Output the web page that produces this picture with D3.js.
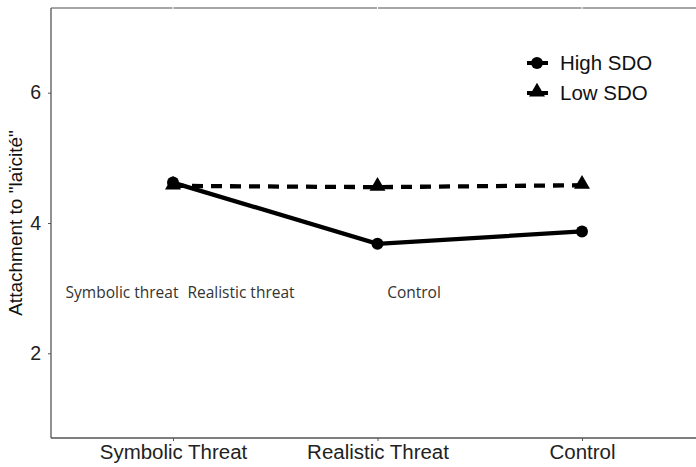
<!DOCTYPE html>
<html><head><meta charset="utf-8">
<script src="https://cdn.jsdelivr.net/npm/d3@7"></script>
<style>body{margin:0;background:#fff}svg{display:block}</style>
</head><body>
<svg id="c" width="696" height="467"></svg>
<script>
const categories = ["Symbolic Threat", "Realistic Threat", "Control"];
const highSDO = [4.62, 3.68, 3.87];
const lowSDO = [4.57, 4.55, 4.58];
const yTicks = [2, 4, 6];
const annotations = ["Symbolic threat", "Realistic threat", "Control"];
const seriesNames = ["High SDO", "Low SDO"];

const svg = d3.select("#c");
const pLeft = 51, pTop = 8, pBottom = 438;
const x = d3.scalePoint().domain(categories).range([173, 582]);
const y = d3.scaleLinear().domain([0.7, 7.3]).range([pBottom, pTop]);
const FONT = "Liberation Sans, Arial, sans-serif";

// top border line with white grid gaps
svg.append("line").attr("x1", pLeft).attr("x2", 696).attr("y1", pTop).attr("y2", pTop)
  .attr("stroke", "#888").attr("stroke-width", 1.3);
categories.forEach(c => svg.append("line").attr("x1", x(c)).attr("x2", x(c))
  .attr("y1", pTop - 1).attr("y2", pTop + 1).attr("stroke", "#fff").attr("stroke-width", 1));

// axes
const gx = svg.append("g").attr("transform", `translate(0,${pBottom})`)
  .call(d3.axisBottom(x).tickSize(3).tickPadding(4));
gx.select(".domain").attr("d", `M${pLeft},0H696`).attr("stroke", "#555").attr("stroke-width", 1.3);
gx.selectAll(".tick line").attr("stroke", "#555");
gx.selectAll("text").attr("font-family", FONT).attr("font-size", 19.5).attr("fill", "#222")
  .attr("transform", "scale(1.05,1)");

const gy = svg.append("g").attr("transform", `translate(${pLeft},0)`)
  .call(d3.axisLeft(y).tickValues(yTicks).tickFormat(d3.format("d")).tickSize(3).tickPadding(7));
gy.select(".domain").attr("d", `M0,${pTop}V${pBottom}`).attr("stroke", "#555").attr("stroke-width", 1.3);
gy.selectAll(".tick line").attr("stroke", "#555");
gy.selectAll("text").attr("font-family", FONT).attr("font-size", 19.5).attr("fill", "#222");

svg.append("text").attr("transform", `translate(22,${(pTop + pBottom) / 2}) rotate(-90)`)
  .attr("text-anchor", "middle").attr("font-family", FONT)
  .attr("font-size", 19).attr("fill", "#111").text('Attachment to "laïcité"');

// annotations
const annX = [122, 241, 414];
annotations.forEach((t, i) => svg.append("text").attr("x", annX[i]).attr("y", 298)
  .attr("text-anchor", "middle").attr("font-family", "Open Sans, sans-serif")
  .attr("font-size", 15.5).attr("fill", "#333").text(t));

const line = d3.line().x((d, i) => x(categories[i])).y(d => y(d));
svg.append("path").datum(lowSDO).attr("d", line).attr("fill", "none")
  .attr("stroke", "#000").attr("stroke-width", 4.3).attr("stroke-dasharray", "11,8");
svg.append("path").datum(highSDO).attr("d", line).attr("fill", "none")
  .attr("stroke", "#000").attr("stroke-width", 4.3);

const tri = d3.symbol().type(d3.symbolTriangle).size(110);
svg.selectAll(".tri").data(lowSDO).join("path")
  .attr("transform", (d, i) => `translate(${x(categories[i])},${y(d) - 1})`)
  .attr("d", tri).attr("fill", "#000");
svg.selectAll(".dot").data(highSDO).join("circle")
  .attr("cx", (d, i) => x(categories[i])).attr("cy", d => y(d)).attr("r", 6).attr("fill", "#000");

// legend
const lg = svg.append("g");
seriesNames.forEach((n, i) => {
  const ly = 63 + i * 30;
  lg.append("line").attr("x1", 527).attr("x2", 548).attr("y1", ly).attr("y2", ly)
    .attr("stroke", "#000").attr("stroke-width", 4).attr("stroke-dasharray", i ? "11,3" : null);
  if (i === 0) lg.append("circle").attr("cx", 537).attr("cy", ly).attr("r", 6).attr("fill", "#000");
  else lg.append("path").attr("transform", `translate(537,${ly - 1})`).attr("d", tri).attr("fill", "#000");
  lg.append("text").attr("transform", `translate(560,${ly + 7}) scale(1.05,1)`).attr("font-family", FONT)
    .attr("font-size", 19.5).attr("fill", "#111").text(n);
});
</script>
</body></html>
